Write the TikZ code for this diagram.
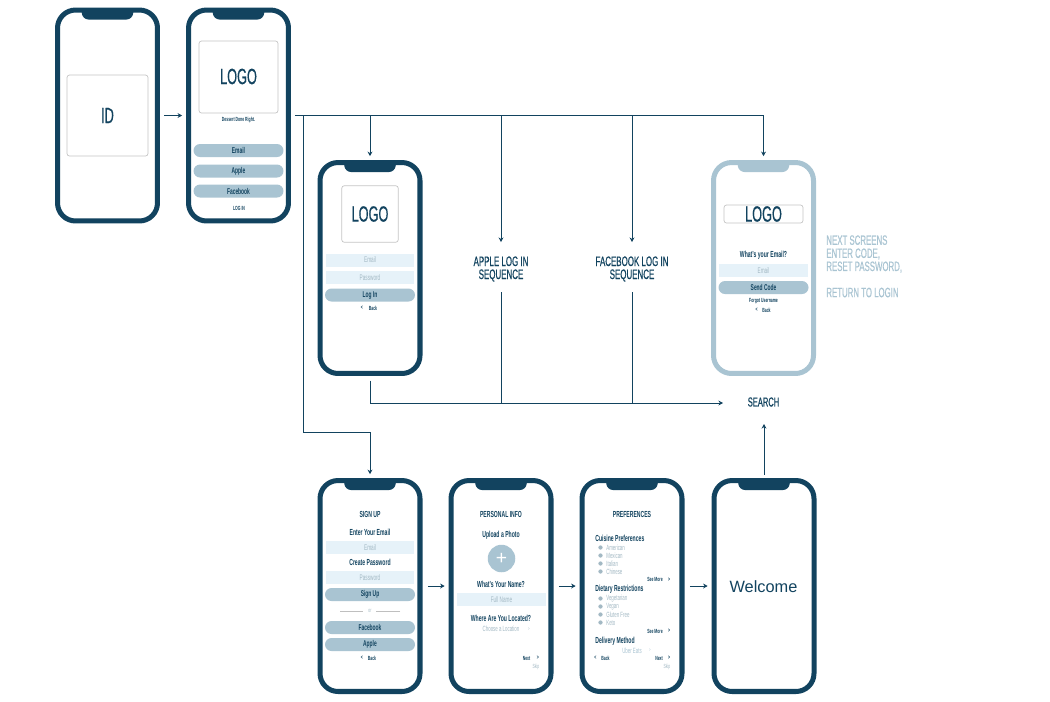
\documentclass[tikz,border=0pt]{standalone}
\usepackage{fontspec}
\setmainfont[FakeStretch=0.58]{Liberation Sans}
\newfontfamily\plainfont{Liberation Sans}
\newfontfamily\heavyfont[FakeStretch=0.58,FakeBold=0.5]{Liberation Sans}
\usepackage{xcolor}
\usetikzlibrary{positioning,calc,arrows.meta}
\definecolor{navy}{HTML}{12435F}
\definecolor{pale}{HTML}{A9C4D2}
\definecolor{ice}{HTML}{E6F2F9}
\definecolor{hint}{HTML}{A3B9C4}
\tikzstyle{arrow} = [-{Stealth[length=2.6pt,width=2.8pt]}, line width=0.55pt, draw=navy]
\tikzstyle{flowline} = [line width=0.55pt, draw=navy]
\tikzset{
    phone/.style={draw=#1, line width=2.85pt, fill=white, rounded corners=0.36cm, minimum width=2cm, minimum height=4.22cm, inner sep=0},
    logobox/.style={draw=gray!45, line width=0.4pt, rounded corners=0.05cm, fill=white, inner sep=0},
    pill/.style={fill=pale, rounded corners=0.13cm, minimum width=1.8cm, minimum height=0.26cm, inner sep=0, text=navy, font=\fontsize{4.8}{5}\selectfont\bfseries},
    field/.style={fill=ice, minimum width=1.78cm, minimum height=0.26cm, inner sep=0, text=hint, font=\fontsize{4.6}{5}\selectfont},
    logotxt/.style={text=navy, inner sep=0, font=\heavyfont\fontsize{12.5}{14}\selectfont},
    head/.style={text=navy, inner sep=0, font=\fontsize{5}{6}\selectfont\bfseries},
    tiny/.style={text=navy, inner sep=0, font=\fontsize{3.4}{4}\selectfont\bfseries},
    item/.style={text=hint, inner sep=0, font=\fontsize{4.3}{5}\selectfont},
    seqtxt/.style={text=navy, inner sep=0, align=center, font=\heavyfont\fontsize{7.8}{7.4}\selectfont},
}

\begin{document}
\begin{tikzpicture}[x=0.02cm, y=-0.02cm]
    \useasboundingbox (0,0) rectangle (1050,701);

    % Phones
    \foreach \name/\x/\y/\col in {idcard/107.5/115.5/navy, home/238.5/115.5/navy, login/370/268/navy, forgot/763.5/268/pale, signup/370/586/navy, personal/501/586/navy, prefs/632/586/navy, welcome/764/586/navy} {
        \node[phone=\col] (\name) at (\x,\y) {};
        \fill[\col] (\x-26,\y-105) [rounded corners=0.12cm] -- (\x-25,\y-96) -- (\x+25,\y-96) [sharp corners] -- (\x+26,\y-105) -- cycle;
    }

    % First screens
    \node[logobox, minimum width=1.62cm, minimum height=1.62cm] (idbox) at (107.5,115.5) {};
    \node[logotxt] (idtxt) at (107.5,115.5) {ID};
    \node[logobox, minimum width=1.58cm, minimum height=1.44cm] (homebox) at (238.5,77) {};
    \node[logotxt] (homelogo) at (238.5,76.5) {LOGO};
    \node[tiny] (tagline) at (238.5,119.5) {Dessert Done Right.};
    \foreach \i/\y/\txt in {1/150.5/Email, 2/171/Apple, 3/191/Facebook} {
        \node[pill] (homepill\i) at (238.5,\y) {\txt};
    }
    \node[tiny] (homelogin) at (239,208) {LOG IN};

    % Log in
    \node[logobox, minimum width=1.13cm, minimum height=1.13cm] (loginbox) at (370,214) {};
    \node[logotxt] (loginlogo) at (370,214) {LOGO};
    \node[field] (loginmail) at (370,260) {Email};
    \node[field] (loginpass) at (370,277.5) {Password};
    \node[pill] (loginbtn) at (370,295) {Log In};
    \node[tiny] (loginless) at (362,308) {<};
    \node[tiny] (loginback) at (373,308) {Back};

    % Forgot
    \node[logobox, minimum width=1.58cm, minimum height=0.36cm] (forgotbox) at (763.5,214) {};
    \node[logotxt] (forgotlogo) at (763.5,214) {LOGO};
    \node[head] (forgothead) at (763.5,255.5) {What's your Email?};
    \node[field] (forgotmail) at (763.5,270.5) {Email};
    \node[pill] (forgotbtn) at (763.5,287.5) {Send Code};
    \node[tiny] (forgotname) at (763.5,301) {Forgot Username};
    \node[tiny] (forgotless) at (756.5,310) {<};
    \node[tiny] (forgotback) at (766.5,310) {Back};
    \node[text=pale, inner sep=0, anchor=north west, align=left, font=\heavyfont\fontsize{7.7}{7.45}\selectfont] (nextnote) at (826,235) {NEXT SCREENS\\ENTER CODE,\\RESET PASSWORD,\\[7.45pt]RETURN TO LOGIN};

    % Sequences
    \node[seqtxt] (appleseq) at (501,269) {APPLE LOG IN\\SEQUENCE};
    \node[seqtxt] (fbseq) at (632,269) {FACEBOOK LOG IN\\SEQUENCE};
    \node[seqtxt, font=\heavyfont\fontsize{7.4}{8}\selectfont] (search) at (763.5,402) {SEARCH};

    % Sign up
    \node[head] (signtitle) at (370,514) {SIGN UP};
    \node[head] (signmailhead) at (370,532.5) {Enter Your Email};
    \node[field] (signmail) at (370,547.5) {Email};
    \node[head] (signpasshead) at (370,562.5) {Create Password};
    \node[field] (signpass) at (370,577.5) {Password};
    \node[pill] (signbtn) at (370,594.5) {Sign Up};
    \node[item, font=\fontsize{3.4}{4}\selectfont] (signor) at (370,611) {or};
    \coordinate (orleft) at (340,611);
    \coordinate (orright) at (400,611);
    \draw[gray!50, line width=0.3pt] (orleft) -- (signor.west -| 363,611);
    \draw[gray!50, line width=0.3pt] (orright) -- (signor.east -| 376,611);
    \node[pill] (signfb) at (370,627.5) {Facebook};
    \node[pill] (signapple) at (370,644.5) {Apple};
    \node[tiny] (signless) at (362,658) {<};
    \node[tiny] (signback) at (372,658) {Back};

    % Personal info
    \node[head] (infotitle) at (501,514) {PERSONAL INFO};
    \node[head] (infophoto) at (501,535.5) {Upload a Photo};
    \node[circle, fill=pale, minimum size=0.55cm, inner sep=0, text=white, font=\plainfont\fontsize{11}{11}\selectfont] (infoplus) at (501.5,558.5) {+};
    \node[head] (infoname) at (501,584) {What's Your Name?};
    \node[field] (infofull) at (501.5,599.5) {Full Name};
    \node[head] (infowhere) at (501,618) {Where Are You Located?};
    \node[item] (infoloc) at (501,629) {Choose a Location};
    \node[item, font=\fontsize{2.6}{3}\selectfont] (infochev) at (529,629.5) {>};
    \node[tiny] (infonext) at (526.5,658) {Next};
    \node[tiny] (infomore) at (538,658) {>};
    \node[item, font=\fontsize{3.4}{4}\selectfont] (infoskip) at (536,667) {Skip};

    % Preferences
    \node[head] (preftitle) at (632,514) {PREFERENCES};
    \node[head, anchor=west] (prefcuisine) at (595,538.5) {Cuisine Preferences};
    \foreach \i/\y/\txt in {1/547.5/American, 2/555.5/Mexican, 3/563.5/Italian, 4/571.5/Chinese, 5/598.5/Vegetarian, 6/606.5/Vegan, 7/614.5/Gluten Free, 8/622.5/Keto} {
        \node[circle, fill=hint, minimum size=0.085cm, inner sep=0] (prefdot\i) at (600.5,\y) {};
        \node[item, anchor=west] (prefitem\i) at (606,\y) {\txt};
    }
    \node[tiny] (prefmore1) at (655,579) {See More};
    \node[tiny] (prefarrow1) at (669,579.5) {>};
    \node[head, anchor=west] (prefdiet) at (595,589.5) {Dietary Restrictions};
    \node[tiny] (prefmore2) at (655,631) {See More};
    \node[tiny] (prefarrow2) at (669,631) {>};
    \node[head, anchor=west] (prefdelivery) at (595,641) {Delivery Method};
    \node[item, text=pale] (prefuber) at (632,650.5) {Uber Eats};
    \node[item, text=pale, font=\fontsize{2.6}{3}\selectfont] (prefchev) at (650,650) {>};
    \node[tiny] (prefless) at (595.5,658) {<};
    \node[tiny] (prefback) at (605.5,658) {Back};
    \node[tiny] (prefnext) at (659,658) {Next};
    \node[tiny] (prefgt) at (669,658) {>};
    \node[item, font=\fontsize{3.4}{4}\selectfont] (prefskip) at (667,667) {Skip};

    % Welcome
    \node[text=navy, inner sep=0, font=\plainfont\fontsize{9.3}{12}\selectfont] (welcometxt) at (763.5,586.5) {Welcome};

    % Connectors
    \draw[arrow, shorten <=2.5pt, shorten >=2.2pt] (idcard) -- (home);
    \coordinate (branchsign) at (303,115.5);
    \coordinate (branchlogin) at (370,115.5);
    \coordinate (branchapple) at (501,115.5);
    \coordinate (branchfb) at (632,115.5);
    \coordinate (branchforgot) at (763.5,115.5);
    \coordinate (signturn) at (303,432);
    \coordinate (signdrop) at (370,432);
    \coordinate (loginturn) at (370,403);
    \coordinate (appledrop) at (501,403);
    \coordinate (fbdrop) at (632,403);
    \coordinate (searchin) at (723,403);
    \coordinate (searchfoot) at (764,424);
    \draw[flowline, shorten <=2.2pt] (home.east) -- (branchforgot);
    \draw[arrow, shorten >=2.2pt] (branchforgot) -- (forgot.north);
    \draw[arrow, shorten >=2.2pt] (branchlogin) -- (login.north);
    \draw[arrow, shorten >=8pt] (branchapple) -- (appleseq.north);
    \draw[arrow, shorten >=8pt] (branchfb) -- (fbseq.north);
    \draw[flowline] (branchsign) -- (signturn) -- (signdrop);
    \draw[arrow, shorten >=2.2pt] (signdrop) -- (signup.north);
    \draw[flowline, shorten <=2.6pt] (login.south) -- (loginturn);
    \draw[arrow] (loginturn) -- (searchin);
    \draw[flowline, shorten <=6pt] (appleseq.south) -- (appledrop);
    \draw[flowline, shorten <=6pt] (fbseq.south) -- (fbdrop);
    \draw[arrow, shorten <=2pt] (welcome.north) -- (searchfoot);
    \draw[arrow, shorten <=3pt, shorten >=2.2pt] (signup) -- (personal);
    \draw[arrow, shorten <=3pt, shorten >=2.2pt] (personal) -- (prefs);
    \draw[arrow, shorten <=3pt, shorten >=2.2pt] (prefs) -- (welcome);
\end{tikzpicture}
\end{document}
